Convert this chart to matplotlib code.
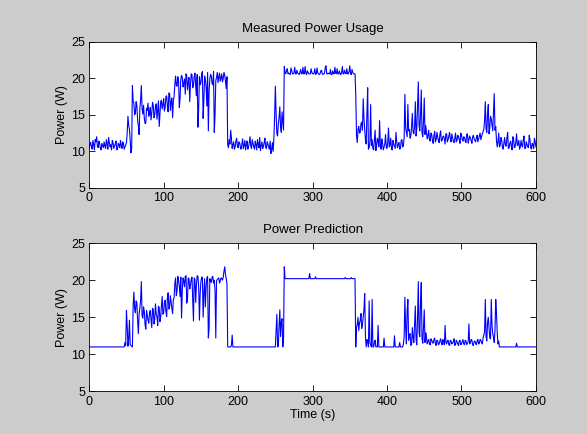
import numpy as np
import matplotlib.pyplot as plt

# power readings
# *_even_w: samples at t = 0, 2, 4, ... 600 s ; *_odd_w: samples at t = 1, 3, ... 599 s
measured_even_w = [
    10.4, 11.2, 10.3, 10.9, 11.6, 12.0, 10.5, 11.1, 10.2, 10.8,
    11.3, 10.4, 11.0, 11.9, 10.6, 10.2, 11.2, 10.7, 11.4, 10.3,
    10.9, 11.5, 10.4, 11.0, 10.6, 11.2, 14.8, 13.0, 9.8, 19.0,
    16.6, 15.2, 16.3, 13.5, 15.9, 19.0, 15.1, 14.5, 13.9, 15.6,
    14.8, 16.0, 15.2, 16.3, 15.0, 16.5, 15.6, 13.4, 16.8, 15.8,
    17.2, 16.0, 17.6, 15.4, 17.9, 16.8, 14.6, 17.5, 20.3, 18.9,
    19.6, 17.2, 20.4, 18.8, 19.9, 20.6, 18.4, 20.1, 19.2, 20.5,
    19.0, 20.7, 17.6, 13.3, 20.2, 19.4, 20.9, 17.1, 19.8, 16.2,
    12.8, 19.9, 20.3, 19.1, 12.6, 19.7, 20.8, 20.2, 19.6, 20.6,
    20.0, 20.4, 18.6, 10.9, 11.6, 12.9, 10.4, 11.3, 10.6, 11.8,
    10.5, 11.2, 10.3, 11.7, 10.8, 10.2, 11.4, 10.6, 12.0, 10.4,
    11.1, 10.3, 10.9, 11.6, 10.5, 10.1, 11.3, 10.7, 11.8, 10.4,
    11.0, 10.3, 9.7, 11.2, 11.7, 18.9, 12.4, 13.8, 16.1, 12.6,
    14.2, 21.6, 20.6, 21.3, 20.7, 20.5, 21.0, 20.6, 21.5, 20.6,
    20.7, 20.5, 21.2, 20.6, 20.6, 21.6, 20.5, 20.8, 20.6, 21.3,
    20.6, 20.7, 20.5, 21.4, 20.6, 20.6, 21.1, 20.5, 20.7, 21.7,
    20.6, 20.6, 21.2, 20.5, 20.7, 21.5, 20.6, 20.6, 21.0, 20.5,
    21.6, 20.6, 20.7, 21.3, 20.6, 21.7, 20.5, 20.8, 20.6, 17.8,
    11.2, 13.4, 12.6, 14.0, 17.2, 13.1, 11.0, 18.7, 10.5, 16.4,
    11.6, 10.2, 12.9, 10.8, 11.4, 14.2, 10.3, 11.1, 10.6, 12.3,
    10.4, 13.2, 10.9, 10.3, 11.5, 10.7, 12.6, 10.5, 11.2, 10.4,
    11.6, 10.8, 17.8, 12.6, 16.4, 13.0, 12.2, 15.2, 12.4, 16.8,
    13.1, 19.5, 12.8, 18.4, 12.0, 17.3, 13.5, 11.7, 12.9, 11.4,
    12.3, 11.1, 12.7, 11.6, 12.0, 11.2, 12.8, 11.5, 12.1, 11.0,
    12.4, 11.6, 12.6, 11.3, 11.9, 11.2, 12.5, 11.5, 12.0, 11.1,
    12.3, 11.4, 11.9, 11.2, 12.4, 11.6, 11.8, 11.1, 12.2, 11.5,
    11.9, 11.3, 12.1, 11.6, 12.4, 13.0, 16.8, 12.6, 16.4, 13.2,
    14.5, 12.8, 17.9, 13.4, 10.6, 12.5, 10.8, 11.6, 10.3, 11.9,
    10.7, 12.6, 10.5, 11.4, 10.2, 11.7, 10.6, 12.4, 10.9, 10.3,
    11.5, 10.6, 12.1, 10.4, 11.0, 10.5, 11.6, 10.3, 10.9, 11.8,
    10.6,
]

measured_odd_w = [
    11.0, 10.6, 11.5, 10.2, 11.3, 10.7, 11.4, 10.4, 11.1, 10.5,
    10.7, 11.6, 10.3, 11.2, 10.9, 11.5, 10.4, 11.0, 10.2, 11.1,
    10.5, 10.8, 11.3, 10.3, 10.9, 12.5, 13.6, 11.6, 10.4, 16.8,
    15.0, 16.8, 14.2, 12.3, 17.0, 15.8, 16.3, 13.8, 15.9, 16.6,
    15.3, 14.3, 16.7, 14.6, 16.2, 14.4, 16.9, 15.1, 17.0, 16.4,
    15.5, 17.5, 16.2, 18.0, 15.6, 17.3, 16.9, 19.2, 19.0, 20.2,
    16.0, 19.8, 20.1, 19.3, 17.8, 20.3, 19.5, 16.8, 20.6, 18.7,
    20.2, 18.9, 20.5, 15.8, 19.1, 20.6, 14.5, 20.3, 18.8, 20.8,
    18.2, 20.5, 19.3, 20.9, 15.0, 20.1, 19.4, 20.7, 20.0, 19.5,
    20.8, 19.6, 20.2, 10.5, 11.0, 11.8, 10.9, 10.3, 11.4, 10.7,
    11.3, 10.6, 11.0, 10.4, 11.5, 10.9, 10.3, 11.2, 10.7, 11.6,
    10.6, 11.4, 10.2, 11.0, 11.9, 10.8, 10.4, 11.2, 10.5, 11.3,
    10.6, 11.4, 10.2, 10.0, 14.8, 15.2, 12.1, 14.6, 13.3, 15.4,
    12.9, 20.8, 21.0, 20.6, 20.6, 21.4, 20.6, 20.7, 20.6, 21.1,
    20.6, 20.8, 20.6, 21.5, 20.6, 20.7, 21.0, 20.6, 20.6, 20.8,
    20.6, 21.3, 20.6, 20.7, 20.5, 21.0, 20.6, 20.6, 21.4, 20.6,
    20.7, 20.6, 20.5, 21.0, 20.6, 20.7, 21.3, 20.6, 20.6, 20.8,
    20.6, 21.1, 20.6, 20.6, 20.9, 20.6, 21.2, 20.6, 20.6, 12.2,
    13.0, 12.5, 13.8, 12.9, 14.5, 11.6, 15.2, 10.3, 11.4, 10.8,
    10.4, 11.5, 10.1, 11.8, 10.6, 10.9, 11.7, 10.2, 11.0, 10.5,
    11.3, 10.6, 11.8, 10.2, 11.0, 10.4, 11.3, 10.9, 10.3, 11.5,
    10.6, 11.9, 13.2, 12.0, 12.8, 11.8, 13.4, 12.6, 13.3, 12.1,
    16.2, 13.6, 15.0, 12.5, 14.2, 12.3, 12.6, 12.1, 11.6, 12.5,
    11.5, 12.2, 11.3, 12.6, 11.5, 12.3, 11.4, 12.0, 11.7, 12.4,
    11.3, 12.1, 11.7, 12.4, 11.4, 11.8, 11.3, 12.2, 11.6, 12.5,
    11.6, 12.0, 11.4, 12.3, 11.1, 12.1, 11.5, 12.0, 11.7, 11.3,
    12.2, 11.7, 12.5, 12.0, 12.7, 14.2, 13.1, 15.0, 12.4, 14.8,
    13.6, 15.3, 12.9, 11.5, 11.3, 10.6, 11.9, 10.5, 11.2, 10.8,
    11.8, 10.4, 11.1, 10.7, 12.0, 10.5, 11.3, 10.8, 11.5, 10.6,
    10.8, 11.6, 10.4, 11.3, 10.6, 12.2, 10.5, 11.1, 10.4, 11.3,
]

predicted_even_w = (
    [11.0] * 24
    + [11.6, 15.9, 11.1, 14.6, 11.2, 11.0,
       18.4, 15.6, 16.9, 12.8, 16.2, 19.8, 14.9, 15.8, 13.4, 15.3,
       14.2, 15.9, 13.6, 16.1, 14.7, 15.4, 13.9, 16.3, 15.0, 17.8,
       15.6, 17.3, 15.1, 18.3, 16.4, 17.0, 15.5, 17.6, 20.3, 18.6,
       20.0, 17.8, 14.9, 20.3, 19.1, 20.6, 17.5, 20.2, 19.4, 20.4,
       14.5, 20.1, 19.3, 20.5, 14.6, 19.8, 20.4, 18.2, 16.4, 20.3,
       12.2, 20.2, 19.7, 20.5, 20.0, 12.2, 20.1, 20.3, 19.9, 20.2,
       20.4, 21.8, 20.2, 11.0, 11.0, 11.0, 12.6]
    + [11.0] * 29
    + [15.4, 11.1, 16.0, 14.4, 11.0, 21.8]
    + [20.2] * 16 + [20.9] + [20.2] * 3 + [20.45] + [20.2] * 19
    + [20.35] + [20.2] * 3 + [20.35, 20.2, 20.2]
    + [11.0,
       14.0, 13.2, 14.6, 13.5, 15.1, 18.2, 11.0, 11.8, 17.2, 11.3,
       17.4, 11.0, 11.9, 11.0, 13.9, 11.0, 11.0, 11.0, 12.2, 11.0,
       11.0, 11.0, 11.0, 11.0, 11.0, 12.5, 11.0, 11.0, 11.0, 11.0,
       11.0, 11.4, 17.7, 11.4, 17.4, 12.6, 11.2, 13.6, 11.6, 16.5,
       11.3, 19.8, 12.4, 19.7, 11.5, 16.0, 12.9, 11.4, 12.0, 11.3,
       11.9, 11.5, 12.2, 11.2, 11.8, 11.4, 12.1, 11.3, 11.7, 13.9,
       11.4, 11.9, 11.2, 11.8, 11.5, 12.1, 11.3, 11.7, 11.2, 11.9,
       11.4, 12.0, 11.3, 11.8, 11.5, 14.1, 11.6, 11.9, 11.2, 11.8,
       11.3, 12.0, 11.5, 11.9, 11.4, 12.6, 17.4, 11.8, 15.0, 12.2,
       17.4, 12.8, 11.6, 17.4, 12.9, 11.8]
    + [11.0] * 11 + [11.5] + [11.0] * 13
)

predicted_odd_w = (
    [11.0] * 24
    + [11.2, 13.8, 12.0, 11.3, 11.1, 16.5,
       16.1, 17.2, 14.5, 15.4, 17.3, 15.2, 16.4, 14.0, 15.9, 14.6,
       15.6, 14.8, 16.2, 14.1, 16.8, 15.1, 16.5, 14.4, 16.6, 15.4,
       17.0, 15.8, 17.6, 16.1, 17.9, 16.2, 17.4, 19.6, 17.9, 20.5,
       19.2, 20.4, 18.6, 19.9, 20.5, 16.9, 20.3, 18.8, 20.1, 17.6,
       20.3, 17.0, 20.6, 19.2, 18.1, 20.4, 15.0, 20.2, 19.1, 20.5,
       13.5, 19.8, 20.4, 19.6, 18.5, 19.9, 20.2, 19.6, 20.3, 20.0,
       21.2, 20.8, 19.5, 11.0, 11.0, 11.2, 11.0, 11.0, 11.0, 11.0]
    + [11.0] * 25
    + [13.2, 11.0, 13.9, 12.4, 14.8, 12.0]
    + [20.2] * 48
    + [13.6,
       15.0, 14.2, 15.5, 14.1, 16.0, 12.4, 12.0, 11.0, 11.5, 11.0,
       11.0, 11.6, 11.0, 11.0, 11.0, 11.0, 11.0, 11.0, 11.0, 11.0,
       11.0, 11.0, 11.0, 11.0, 11.0, 11.0, 11.0, 11.0, 11.6, 11.0,
       11.0, 12.4, 13.5, 15.8, 11.9, 12.8, 11.3, 12.2, 14.1, 12.0,
       14.9, 13.0, 17.0, 12.1, 13.6, 11.6, 12.3, 11.8, 11.4, 12.1,
       11.6, 12.0, 11.4, 11.9, 11.3, 11.8, 11.5, 12.0, 11.3, 11.6,
       11.8, 11.3, 11.9, 11.4, 11.7, 11.2, 11.9, 11.4, 11.8, 11.3,
       11.7, 11.4, 11.9, 11.3, 11.7, 11.4, 12.0, 11.3, 11.7, 11.5,
       11.8, 11.4, 12.0, 11.6, 12.2, 13.1, 12.4, 14.3, 13.5, 12.1,
       14.0, 12.3, 13.2, 15.6, 11.4, 11.0, 11.0, 11.0, 11.0, 11.0]
    + [11.0] * 20
)

titles = ["Measured Power Usage", "Power Prediction"]
x_ticks = [0, 100, 200, 300, 400, 500, 600]
y_ticks = [5, 10, 15, 20, 25]


def interleave(even, odd):
    vals = np.empty(len(even) + len(odd))
    vals[0::2] = even
    vals[1::2] = odd
    return vals


measured_w = interleave(measured_even_w, measured_odd_w)
predicted_w = interleave(predicted_even_w, predicted_odd_w)

plt.rcParams['font.family'] = ['Liberation Sans', 'DejaVu Sans']

fig = plt.figure(figsize=(5.87, 4.34), dpi=100, facecolor='#cccccc')
ax_top = fig.add_axes([0.152, 0.567, 0.761, 0.337])
ax_bot = fig.add_axes([0.152, 0.098, 0.761, 0.342])

for ax, series, title in zip([ax_top, ax_bot], [measured_w, predicted_w], titles):
    t = np.linspace(0, 600, len(series))
    ax.plot(t, series, color='blue', linewidth=0.8)
    ax.set_xlim(0, 600)
    ax.set_ylim(5, 25)
    ax.set_xticks(x_ticks)
    ax.set_yticks(y_ticks)
    ax.set_facecolor('white')
    ax.set_title(title, fontsize=9.5, pad=7)
    ax.set_ylabel("Power (W)", fontsize=9, labelpad=2)
    ax.tick_params(direction='in', top=True, right=True, labelsize=9,
                   length=4, width=0.6, pad=3)
    for s in ax.spines.values():
        s.set_linewidth(0.6)

ax_bot.set_xlabel("Time (s)", fontsize=9, labelpad=1)

fig.savefig("out.png", dpi=100, facecolor=fig.get_facecolor())
